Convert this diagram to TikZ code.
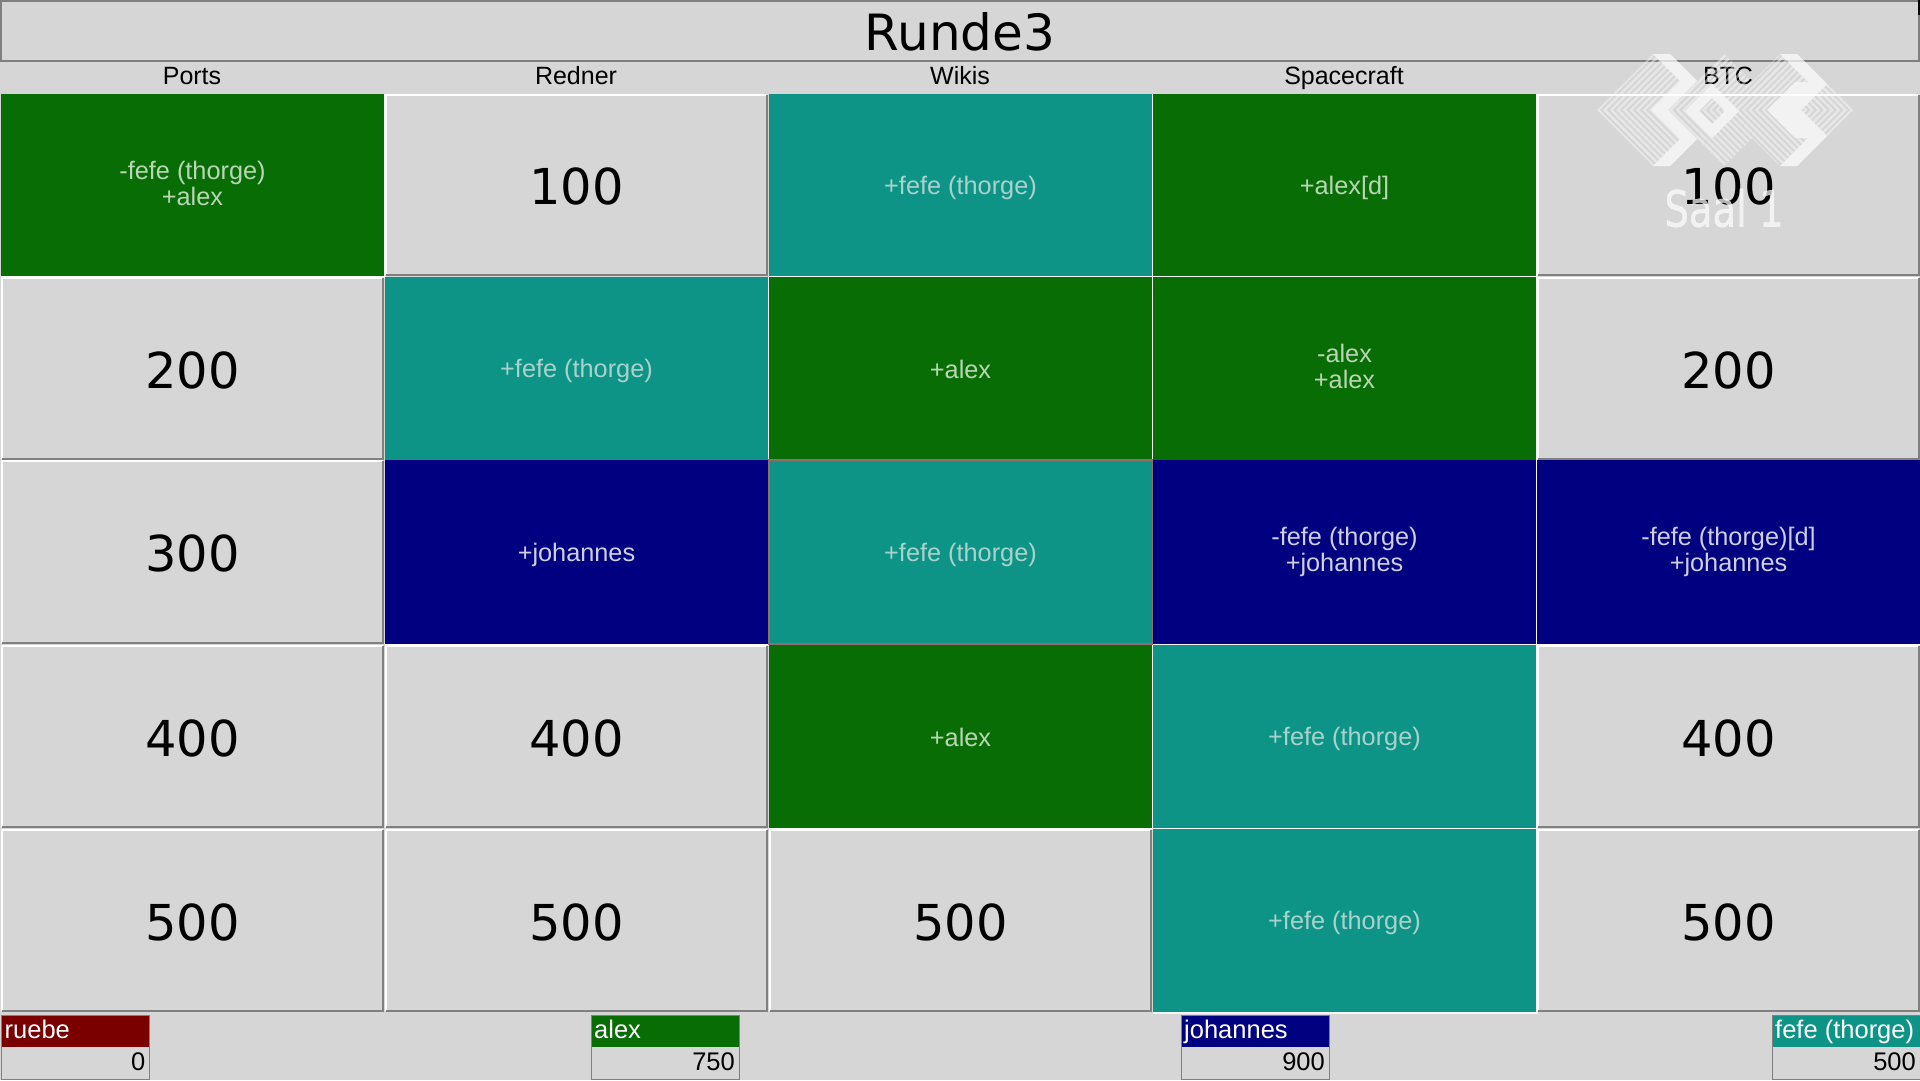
\documentclass[tikz,border=0pt]{standalone}
\usepackage{fontspec}
\setmainfont{Liberation Sans}
\newfontfamily\bigfont{DejaVu Sans}
\newfontfamily\saalfont[FakeStretch=0.77,FakeBold=0.6]{DejaVu Sans}
\definecolor{bgc}{HTML}{D6D6D6}
\definecolor{greenc}{HTML}{096D05}
\definecolor{tealc}{HTML}{0D9487}
\definecolor{navyc}{HTML}{000080}
\definecolor{redc}{HTML}{7A0000}
\definecolor{edgedark}{HTML}{808080}
\definecolor{txtgreen}{HTML}{B9D6B4}
\definecolor{txtteal}{HTML}{A9D2CD}
\definecolor{txtnavy}{HTML}{CFCFE0}
\newcommand{\toprule}[1]{\rule{0pt}{#1pt}}
\newcommand{\botrule}[1]{\rule[-#1pt]{0pt}{#1pt}}
\tikzset{
  cellbase/.style={rectangle,inner sep=0pt,outer sep=0pt,minimum width=383.5pt,align=center},
  numcell/.style={cellbase,fill=bgc,text=black,text height=39.5pt,text depth=0pt,font=\bigfont\fontsize{49.5}{50}\selectfont},
  colcell/.style={cellbase,font=\fontsize{25.3}{25.7}\selectfont,execute at begin node={\toprule{24}},execute at end node={\botrule{4}}},
  gcell/.style={colcell,fill=greenc,text=txtgreen},
  tcell/.style={colcell,fill=tealc,text=txtteal},
  ncell/.style={colcell,fill=navyc,text=txtnavy},
  lightedge/.style={draw=white,line width=2pt},
  darkedge/.style={draw=edgedark,line width=2pt},
  gapedge/.style={draw=white!80!bgc,line width=1.5pt},
  headtext/.style={font=\fontsize{25}{25}\selectfont,text=black,inner sep=0pt,execute at begin node={\toprule{22}\botrule{4.4}}},
  namebox/.style={rectangle,inner sep=0pt,outer sep=0pt,minimum width=148pt,minimum height=32pt,text=white},
  scorebox/.style={rectangle,inner sep=0pt,outer sep=0pt,minimum width=148pt,minimum height=32pt,fill=bgc},
  foottext/.style={font=\fontsize{25.5}{25.5}\selectfont,inner sep=0pt,execute at begin node={\toprule{20}\botrule{4.8}}},
  hatchline/.style={draw=white,opacity=0.6,line width=2.4pt},
  bandfill/.style={fill=white},
  watermark/.style={opacity=0.7,transparency group}
}
\newcommand{\numc}[5]{%
  \node[numcell,minimum height=#4pt] (#1) at (#2,#3) {#5};
  \draw[lightedge] ([shift={(1,-1)}]#1.south west) -- ([shift={(1,1)}]#1.north west) -- ([shift={(-1,1)}]#1.north east);
  \draw[darkedge] ([shift={(-1,1)}]#1.north east) -- ([shift={(-1,-1)}]#1.south east) -- ([shift={(1,-1)}]#1.south west);
}
\newcommand{\colc}[6]{%
  \node[#1,minimum height=#5pt] (#2) at (#3,#4) {#6};
  \draw[gapedge] ([shift={(0.8,0)}]#2.north east) -- ([shift={(0.8,0.8)}]#2.south east) -- ([shift={(0,0.8)}]#2.south west);
}
\newcommand{\player}[5]{%
  \node[namebox,anchor=north west,fill=#3] (#1n) at (#2,1015) {};
  \node[scorebox,anchor=north west] (#1s) at (#2,1047) {};
  \node[foottext,text=white,anchor=west] (#1l) at ([xshift=3]#1n.west) {#4};
  \node[foottext,text=black,anchor=east] (#1v) at ([xshift=-4,yshift=0.3]#1s.east) {#5};
  \draw[edgedark,line width=1pt] (#1n.north west) -- (#1n.north east) -- (#1s.south east) -- (#1s.south west) -- cycle;
}
\begin{document}
\begin{tikzpicture}[x=1pt,y=-1pt]
\useasboundingbox (0,0) rectangle (1920,1080);
\fill[bgc] (0,0) rectangle (1920,1080);
\node[rectangle,draw=edgedark,line width=2pt,fill=bgc,minimum width=1918pt,minimum height=60pt,inner sep=0pt,text height=38.5pt,text depth=0pt,font=\bigfont\fontsize{50}{50}\selectfont] (title) at (960,31) {Runde3};
\fill[black] (1918,0) rectangle (1920,15);
\node[headtext] (h1) at (192,76) {Ports};
\node[headtext] (h2) at (576,76) {Redner};
\node[headtext] (h3) at (960,76) {Wikis};
\node[headtext] (h4) at (1344,76) {Spacecraft};
\node[headtext] (h5) at (1728,76) {BTC};
\colc{gcell}{c11}{192.5}{185}{182}{-fefe (thorge)\\+alex}
\numc{c12}{576.5}{185}{182}{100}
\colc{tcell}{c13}{960.5}{185}{182}{+fefe (thorge)}
\colc{gcell}{c14}{1344.5}{185}{182}{+alex[d]}
\numc{c15}{1728.5}{185}{182}{100}
\numc{c21}{192.5}{368.5}{183}{200}
\colc{tcell}{c22}{576.5}{368.5}{183}{+fefe (thorge)}
\colc{gcell}{c23}{960.5}{368.5}{183}{+alex}
\colc{gcell}{c24}{1344.5}{368.5}{183}{-alex\\+alex}
\numc{c25}{1728.5}{368.5}{183}{200}
\numc{c31}{192.5}{552}{184}{300}
\colc{ncell}{c32}{576.5}{552}{184}{+johannes}
\colc{tcell}{c33}{960.5}{552}{184}{+fefe (thorge)}
\colc{ncell}{c34}{1344.5}{552}{184}{-fefe (thorge)\\+johannes}
\colc{ncell}{c35}{1728.5}{552}{184}{-fefe (thorge)[d]\\+johannes}
\draw[draw=edgedark!85!red,line width=1.5pt] (c33.north west) rectangle (c33.south east);
\numc{c41}{192.5}{736.5}{183}{400}
\numc{c42}{576.5}{736.5}{183}{400}
\colc{gcell}{c43}{960.5}{736.5}{183}{+alex}
\colc{tcell}{c44}{1344.5}{736.5}{183}{+fefe (thorge)}
\numc{c45}{1728.5}{736.5}{183}{400}
\numc{c51}{192.5}{920.5}{183}{500}
\numc{c52}{576.5}{920.5}{183}{500}
\numc{c53}{960.5}{920.5}{183}{500}
\colc{tcell}{c54}{1344.5}{920.5}{183}{+fefe (thorge)}
\numc{c55}{1728.5}{920.5}{183}{500}
\player{pa}{1.5}{redc}{ruebe}{0}
\player{pb}{591}{greenc}{alex}{750}
\player{pc}{1181}{navyc}{johannes}{900}
\player{pd}{1772}{tealc}{fefe (thorge)}{500}
\begin{scope}[watermark]
  \begin{scope}
    \clip (1597,110) -- (1653,54) -- (1670,54) -- (1697,81) -- (1724,54) -- (1752,82) -- (1780,54) -- (1797,54) -- (1827,84) -- (1801,110) -- (1827,136) -- (1797,166) -- (1780,166) -- (1752,138) -- (1724,166) -- (1697,139) -- (1670,166) -- (1653,166) -- cycle;
    \foreach \k in {0,...,40}{
      \pgfmathsetmacro{\vx}{1598+6.6*\k}
      \draw[hatchline] (\vx+70,40) -- (\vx,110) -- (\vx+70,180);
    }
  \end{scope}
  \begin{scope}
    \clip (1801,110) -- (1827,84) -- (1853,110) -- (1827,136) -- cycle;
    \foreach \k in {0,...,9}{
      \pgfmathsetmacro{\vx}{1852-6.6*\k}
      \draw[hatchline] (\vx-40,70) -- (\vx,110) -- (\vx-40,150);
    }
  \end{scope}
  \fill[bandfill] (1653,54) -- (1670,54) -- (1697,81) -- (1668,110) -- (1697,139) -- (1670,166) -- (1653,166) -- (1680,139) -- (1651,110) -- (1680,81) -- cycle;
  \fill[bandfill] (1780,54) -- (1797,54) -- (1827,84) -- (1801,110) -- (1827,136) -- (1797,166) -- (1780,166) -- (1808,138) -- (1795,138) -- (1767,110) -- (1795,82) -- (1808,82) -- cycle;
  \fill[bandfill,even odd rule] (1685,111) -- (1712,84) -- (1739,111) -- (1712,138) -- cycle (1699,111) -- (1712,98) -- (1725,111) -- (1712,124) -- cycle;
\end{scope}
\node[anchor=center,inner sep=0pt,text=white,text opacity=0.7,font=\saalfont\fontsize{50}{50}\selectfont] (saal) at (1724,208) {Saal 1};
\end{tikzpicture}
\end{document}
